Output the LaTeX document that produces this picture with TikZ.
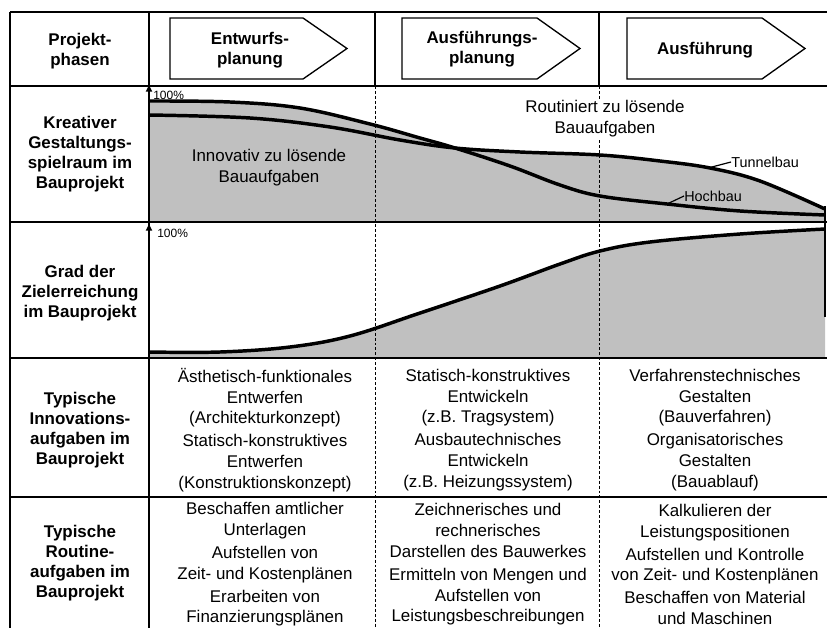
\documentclass[tikz,border=0pt]{standalone}
\usepackage{fontspec}
\setmainfont{Liberation Sans}
\usetikzlibrary{arrows.meta}
\definecolor{fillgray}{RGB}{192,192,192}
\begin{document}
\begin{tikzpicture}[x=0.75pt,y=-0.75pt,
  hdr/.style={font=\fontsize{12.7pt}{15pt}\selectfont\bfseries, align=center, inner sep=0pt},
  body/.style={font=\fontsize{12.7pt}{15.6pt}\selectfont, align=center, inner sep=0pt},
  border/.style={line width=1.2pt},
  divline/.style={line width=0.7pt, dash pattern=on 2.2pt off 1.5pt},
  curve/.style={line width=2.6pt},
  phase/.style={draw, line width=1pt, fill=white},
  small/.style={font=\fontsize{9pt}{10pt}\selectfont, inner sep=0pt},
  lab/.style={font=\fontsize{10.8pt}{12pt}\selectfont, inner sep=0pt},
  leader/.style={line width=0.9pt},
]
\useasboundingbox (0,0) rectangle (827,628);
\fill[white] (0,0) rectangle (827,628);

% ---- gray areas
\fill[fillgray] plot[smooth, tension=0.6] coordinates {(149,101) (230,102) (300,108) (370,124) (420,138) (455,148) (510,166) (560,185) (600,196) (667,204) (740,211) (825,215)} -- (825,222) -- (149,222) -- cycle;
\fill[fillgray] plot[smooth, tension=0.6] coordinates {(149,115) (250,118) (330,127) (400,140) (455,148) (520,152) (600,155) (660,161) (710,168) (760,181) (825,209)} -- (825,222) -- (149,222) -- cycle;
\fill[fillgray] plot[smooth, tension=0.6] coordinates {(149,352) (220,352) (290,347) (350,336) (420,313) (500,286) (560,264) (600,251) (650,242) (740,234) (825,229)} -- (825,358) -- (149,358) -- cycle;

% ---- dashed phase separators
\draw[divline] (375,86) -- (375,628);
\draw[divline] (599,86) -- (599,628);

% ---- table lines
\draw[border] (10,12) -- (827,12);
\draw[border] (10,86) -- (827,86);
\draw[border] (10,222) -- (827,222);
\draw[border] (10,358) -- (827,358);
\draw[border] (10,497) -- (827,497);
\draw[border] (10,12) -- (10,628);
\draw[border] (149,12) -- (149,628);
\draw[border] (375,12) -- (375,86);
\draw[border] (599,12) -- (599,86);
\draw[line width=0.9pt] (825,206) -- (825,317);

% ---- axes
\draw[border, -{Triangle[length=5pt,width=4.5pt]}] (149,222) -- (149,85);
\draw[border, -{Triangle[length=5pt,width=4.5pt]}] (149,358) -- (149,224);
\node[small, anchor=west] (p100a) at (153,95) {100\%};
\node[small, anchor=west] (p100b) at (157,233) {100\%};

% ---- curves
\draw[curve] plot[smooth, tension=0.6] coordinates {(149,101) (230,102) (300,108) (370,124) (420,138) (455,148) (510,166) (560,185) (600,196) (667,204) (740,211) (825,215)};
\draw[curve] plot[smooth, tension=0.6] coordinates {(149,115) (250,118) (330,127) (400,140) (455,148) (520,152) (600,155) (660,161) (710,168) (760,181) (825,209)};
\draw[curve] plot[smooth, tension=0.6] coordinates {(149,352) (220,352) (290,347) (350,336) (420,313) (500,286) (560,264) (600,251) (650,242) (740,234) (825,229)};

% ---- curve labels
\node[lab, anchor=west] (tunnel) at (731,162) {Tunnelbau};
\node[lab, anchor=west] (hoch) at (684,196) {Hochbau};
\coordinate (tbpt) at (708,168);
\coordinate (hbpt) at (667,204);
\draw[leader] (tbpt) -- (tunnel.west);
\draw[leader] (hbpt) -- (hoch.west);

\node[body] (innov) at (269,168) {Innovativ zu lösende\\Bauaufgaben};
\node[body, fill=white, inner sep=1pt] (routin) at (605,119) {Routiniert zu lösende\\Bauaufgaben};

% ---- phase arrows
\draw[phase] (170,18) -- (303,18) -- (347,48.5) -- (303,79) -- (170,79) -- cycle;
\draw[phase] (402,18) -- (537,18) -- (580,48.5) -- (537,79) -- (402,79) -- cycle;
\draw[phase] (627,18) -- (762,18) -- (805,48.5) -- (762,79) -- (627,79) -- cycle;
\node[hdr] (ph1) at (250,50) {Entwurfs-\\planung};
\node[hdr] (ph2) at (482,49) {Ausführungs-\\planung};
\node[hdr] (ph3) at (705,50) {Ausführung};

% ---- row labels
\node[hdr] (r1) at (80,51) {Projekt-\\phasen};
\node[hdr] (r2) at (80,154) {Kreativer\\Gestaltungs-\\spielraum im\\Bauprojekt};
\node[hdr] (r3) at (80,293) {Grad der\\Zielerreichung\\im Bauprojekt};
\node[hdr] (r4) at (80,430) {Typische\\Innovations-\\aufgaben im\\Bauprojekt};
\node[hdr] (r5) at (80,563) {Typische\\Routine-\\aufgaben im\\Bauprojekt};

% ---- cells
\node[body] (c41) at (265,430) {Ästhetisch-funktionales\\Entwerfen\\(Architekturkonzept)\\[1.5pt]Statisch-konstruktives\\Entwerfen\\(Konstruktionskonzept)};
\node[body] (c42) at (488,430) {Statisch-konstruktives\\Entwickeln\\(z.B. Tragsystem)\\[1.5pt]Ausbautechnisches\\Entwickeln\\(z.B. Heizungssystem)};
\node[body] (c43) at (715,430) {Verfahrenstechnisches\\Gestalten\\(Bauverfahren)\\[1.5pt]Organisatorisches\\Gestalten\\(Bauablauf)};
\node[body] (c51) at (265,564.5) {Beschaffen amtlicher\\Unterlagen\\[1.5pt]Aufstellen von\\Zeit- und Kostenplänen\\[1.5pt]Erarbeiten von\\Finanzierungsplänen};
\node[body] (c52) at (488,564.5) {Zeichnerisches und\\rechnerisches\\Darstellen des Bauwerkes\\[1.5pt]Ermitteln von Mengen und\\Aufstellen von\\Leistungsbeschreibungen};
\node[body] (c53) at (715,564.5) {Kalkulieren der\\Leistungspositionen\\[1.5pt]Aufstellen und Kontrolle\\von Zeit- und Kostenplänen\\[1.5pt]Beschaffen von Material\\und Maschinen};
\end{tikzpicture}
\end{document}
